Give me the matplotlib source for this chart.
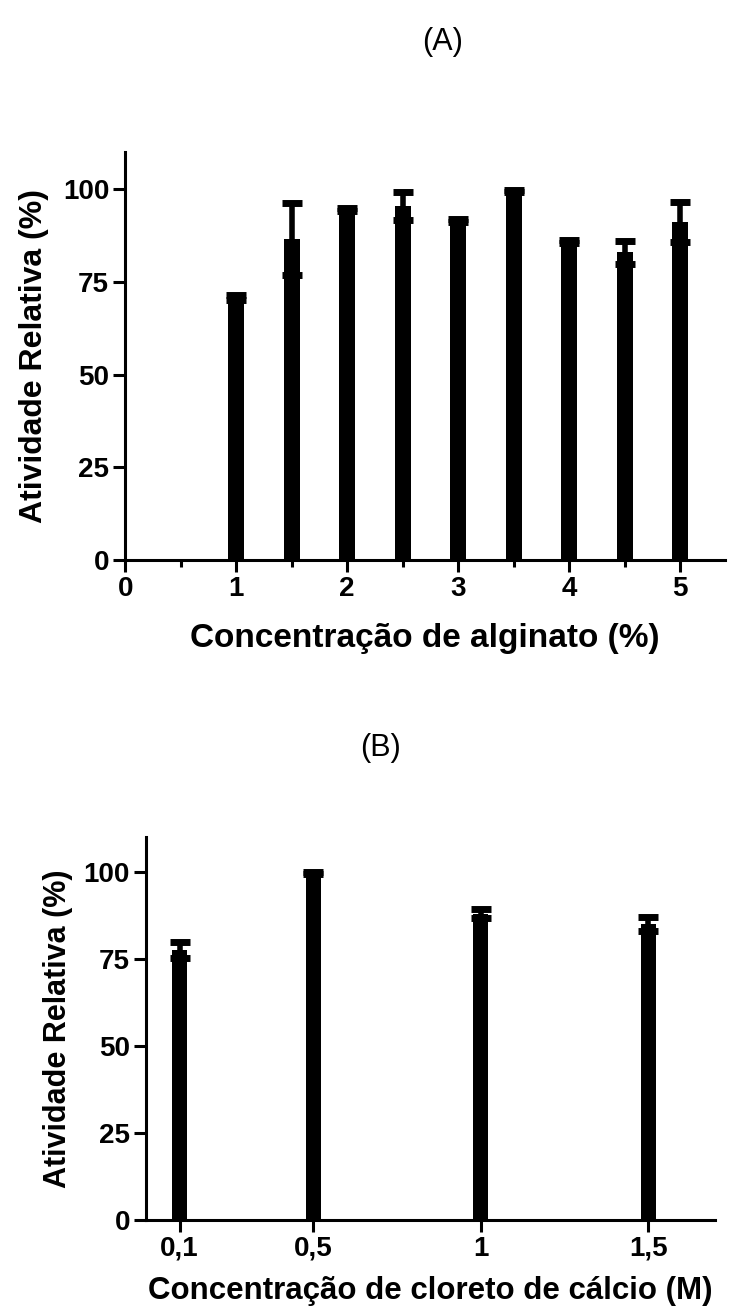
import matplotlib
matplotlib.use("Agg")
import matplotlib.pyplot as plt
from matplotlib.ticker import MultipleLocator

plt.rcParams["font.family"] = ["Liberation Sans", "DejaVu Sans"]

# (A) alginate concentration
alg_x = [1, 1.5, 2, 2.5, 3, 3.5, 4, 4.5, 5]
alg_mean = [70.8, 86.5, 94.5, 95.5, 91.6, 99.5, 86.0, 83.0, 91.2]
alg_err = [0.7, 9.7, 0.4, 3.8, 0.4, 0.3, 0.4, 3.0, 5.3]

# (B) calcium chloride concentration
ca_x = [0.1, 0.5, 1.0, 1.5]
ca_labels = ["0,1", "0,5", "1", "1,5"]
ca_mean = [77.5, 99.7, 88.0, 85.0]
ca_err = [2.3, 0.3, 1.3, 2.1]

fig = plt.figure(figsize=(7.32, 13.11), dpi=100)
axA = fig.add_axes([0.171, 0.5728, 0.819, 0.311])
axB = fig.add_axes([0.1995, 0.0694, 0.7775, 0.2922])


def style(ax):
    for s in ["top", "right"]:
        ax.spines[s].set_visible(False)
    for s in ["left", "bottom"]:
        ax.spines[s].set_linewidth(2.2)
    ax.tick_params(direction="out", length=8.5, width=2.2, labelsize=20, pad=3)
    ax.tick_params(which="minor", direction="out", length=5, width=2.2)
    for lab in ax.get_xticklabels() + ax.get_yticklabels():
        lab.set_fontweight("bold")
    ax.set_ylim(0, 110)
    ax.set_yticks([0, 25, 50, 75, 100])


axA.bar(alg_x, alg_mean, width=0.145, color="black")
axA.errorbar(alg_x, alg_mean, yerr=alg_err, fmt="none", ecolor="black",
             elinewidth=4, capsize=7.5, capthick=5)
axA.set_xlim(0, 5.4)
axA.set_xticks([0, 1, 2, 3, 4, 5])
axA.xaxis.set_minor_locator(MultipleLocator(0.5))
style(axA)
axA.set_xlabel("Concentração de alginato (%)", fontsize=24, fontweight="bold", labelpad=15)
axA.set_ylabel("Atividade Relativa (%)", fontsize=23, fontweight="bold", labelpad=10)

axB.bar(ca_x, ca_mean, width=0.045, color="black")
axB.errorbar(ca_x, ca_mean, yerr=ca_err, fmt="none", ecolor="black",
             elinewidth=4, capsize=7.5, capthick=5)
axB.set_xlim(0, 1.7)
axB.set_xticks(ca_x)
axB.set_xticklabels(ca_labels)
style(axB)
axB.set_xlabel("Concentração de cloreto de cálcio (M)", fontsize=22.5, fontweight="bold", labelpad=10)
axB.set_ylabel("Atividade Relativa (%)", fontsize=22, fontweight="bold", labelpad=8)

fig.text(443 / 732, 1 - 42 / 1311, "(A)", fontsize=22, ha="center", va="center")
fig.text(380 / 732, 1 - 748 / 1311, "(B)", fontsize=22, ha="center", va="center")

fig.savefig("out.png", dpi=100)
